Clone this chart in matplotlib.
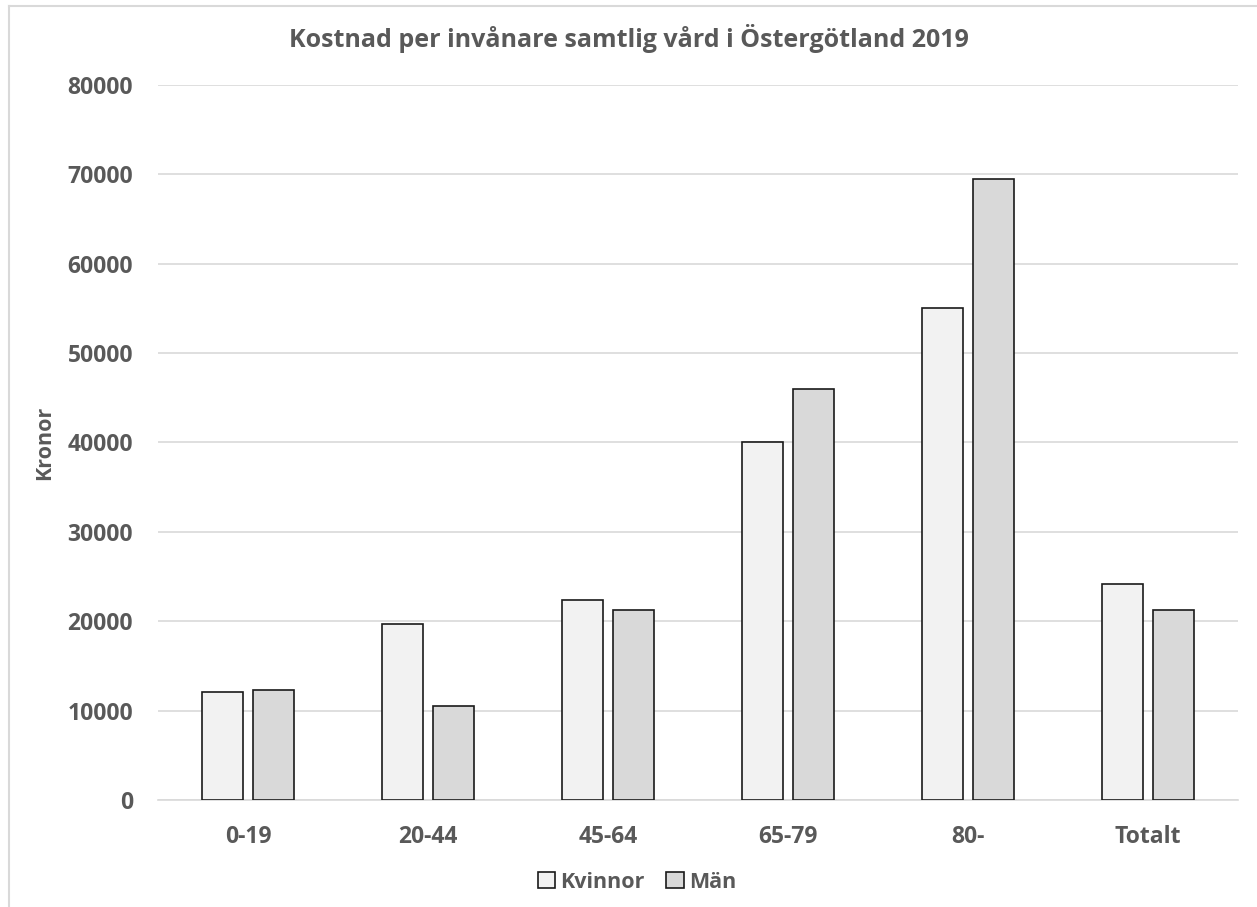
import matplotlib
matplotlib.use("Agg")
import matplotlib.pyplot as plt
import numpy as np
from matplotlib.lines import Line2D

# Cost per inhabitant, all care, Östergötland 2019
categories = ["0-19", "20-44", "45-64", "65-79", "80-", "Totalt"]
kvinnor = [12100, 19700, 22400, 40000, 55000, 24150]
man = [12300, 10550, 21250, 46000, 69500, 21250]
yticks = [0, 10000, 20000, 30000, 40000, 50000, 60000, 70000, 80000]

text_color = "#595959"
plt.rcParams["font.family"] = ["Open Sans", "DejaVu Sans"]
plt.rcParams["font.weight"] = "bold"

W, H = 1257, 907
fig = plt.figure(figsize=(W / 100, H / 100), dpi=100)
ax = fig.add_axes([158 / W, 1 - 800 / H, 1080 / W, 715 / H])

x = np.arange(len(categories))
width = 0.228
gap = 0.055
ax.bar(x - (width + gap) / 2, kvinnor, width, color="#f2f2f2",
       edgecolor="#1a1a1a", linewidth=1.2, label="Kvinnor", zorder=3)
ax.bar(x + (width + gap) / 2, man, width, color="#d9d9d9",
       edgecolor="#1a1a1a", linewidth=1.2, label="Män", zorder=3)

ax.set_xlim(-0.5, len(categories) - 0.5)
ax.set_ylim(0, 80000)
ax.set_yticks(yticks)
ax.set_yticklabels([str(v) for v in yticks])
ax.set_xticks(x)
ax.set_xticklabels(categories)
ax.yaxis.grid(True, color="#d9d9d9", linewidth=1.2, zorder=0)
ax.set_axisbelow(True)
for s in ["top", "right", "left"]:
    ax.spines[s].set_visible(False)
ax.spines["bottom"].set_color("#d9d9d9")
ax.spines["bottom"].set_linewidth(1.2)
ax.tick_params(axis="both", length=0, labelsize=16.5, labelcolor=text_color)
ax.tick_params(axis="y", pad=18)
ax.tick_params(axis="x", pad=18)

ax.set_ylabel("Kronor", fontsize=15.5, color=text_color, fontweight="bold", labelpad=9)
fig.text(629 / W, 1 - 38 / H, "Kostnad per invånare samtlig vård i Östergötland 2019",
         ha="center", va="center", fontsize=18, fontweight="bold", color=text_color)

leg = ax.legend(loc="center", bbox_to_anchor=(637 / W, 1 - 882 / H),
                bbox_transform=fig.transFigure, ncol=2, frameon=False,
                prop={"size": 15.5, "weight": "bold"}, handlelength=0.8, handleheight=0.8,
                handletextpad=0.25, columnspacing=1.0)
for t in leg.get_texts():
    t.set_color(text_color)

# chart area border
fig.add_artist(Line2D([9 / W, 9 / W], [0, 1 - 6 / H], transform=fig.transFigure,
                      color="#d9d9d9", linewidth=1.5))
fig.add_artist(Line2D([9 / W, 1], [1 - 6 / H, 1 - 6 / H], transform=fig.transFigure,
                      color="#d9d9d9", linewidth=1.5))

fig.savefig("out.png", dpi=100)
